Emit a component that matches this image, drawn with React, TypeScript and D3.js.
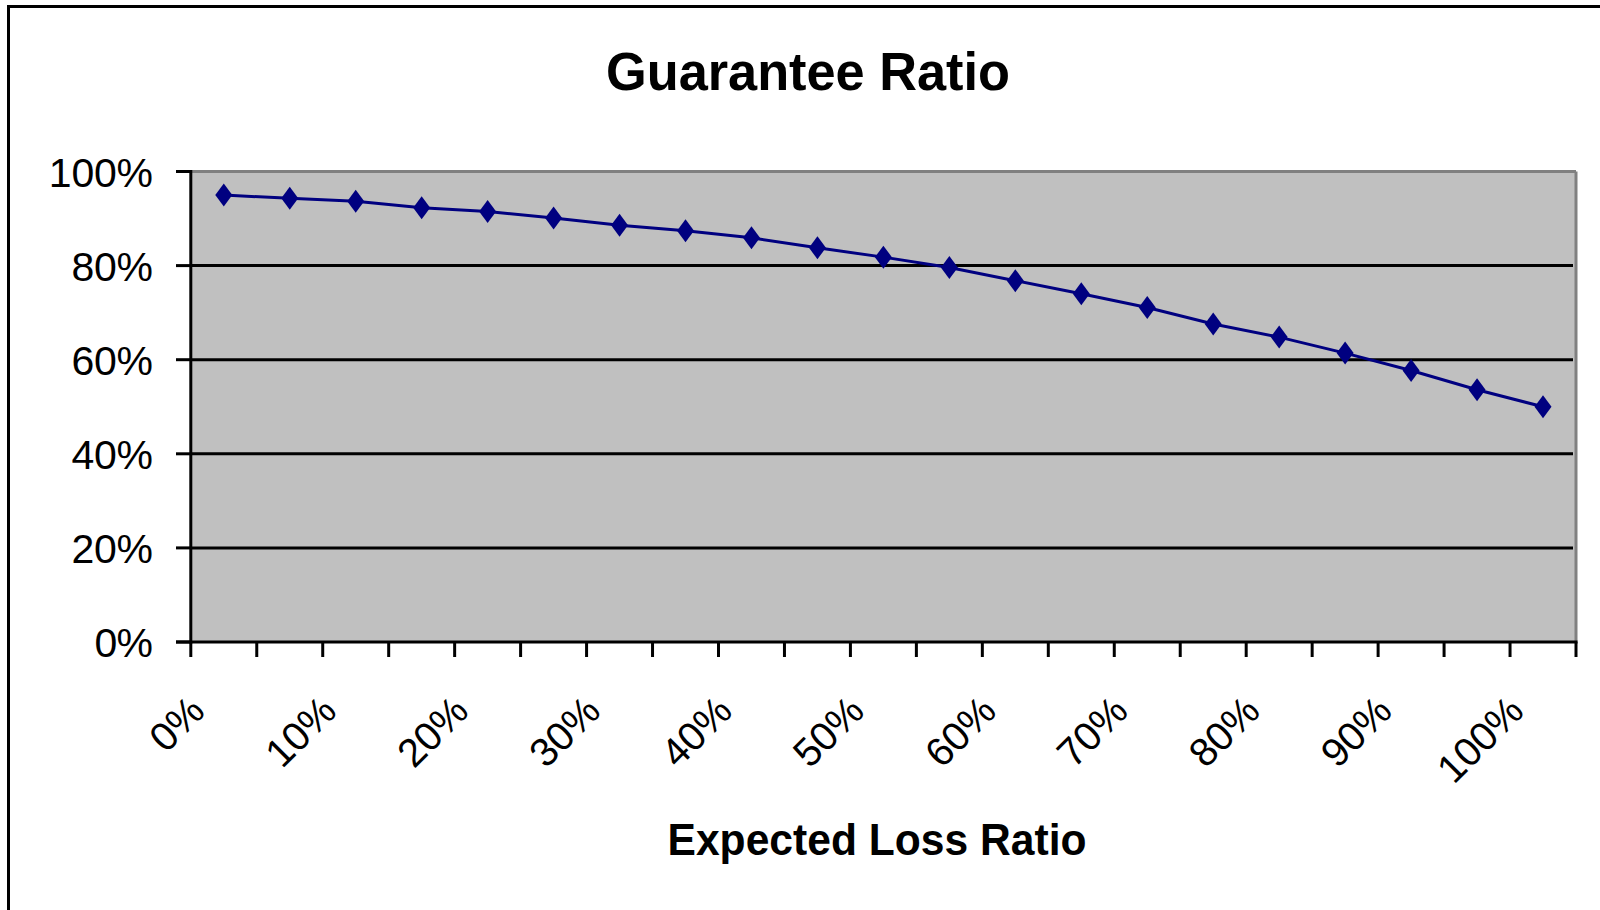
import React from "react";
import * as d3 from "d3";

const categories = [
  "0%", "5%", "10%", "15%", "20%", "25%", "30%", "35%", "40%", "45%", "50%",
  "55%", "60%", "65%", "70%", "75%", "80%", "85%", "90%", "95%", "100%",
];
const guaranteeRatio = [
  0.95, 0.943, 0.937, 0.923, 0.915, 0.901, 0.886, 0.874, 0.859, 0.838, 0.818,
  0.796, 0.768, 0.74, 0.711, 0.676, 0.648, 0.614, 0.577, 0.536, 0.5,
];
const xTickLabels = ["0%", "10%", "20%", "30%", "40%", "50%", "60%", "70%", "80%", "90%", "100%"];
const yTicks = [0, 0.2, 0.4, 0.6, 0.8, 1.0];
const title = "Guarantee Ratio";
const xAxisTitle = "Expected Loss Ratio";

const W = 1600;
const H = 910;
const plot = { left: 190.8, right: 1576, top: 171.5, bottom: 642 };
const NAVY = "#000080";
const FONT = "'Liberation Sans', Arial, sans-serif";

export default function App() {
  const x = d3.scaleBand<string>().domain(categories).range([plot.left, plot.right]).padding(0);
  const y = d3.scaleLinear().domain([0, 1]).range([plot.bottom, plot.top]);
  const bw = x.bandwidth();
  const cx = (c: string) => (x(c) as number) + bw / 2;
  const pts: [number, number][] = categories.map((c, i) => [cx(c), y(guaranteeRatio[i])]);
  const line = d3.line()(pts) as string;
  const yFmt = d3.format(".0%");
  const boundaries = categories.map((c) => x(c) as number).concat([plot.right]);
  const diamond = "M0,-11.5L8.5,0L0,11.5L-8.5,0Z";

  return (
    <svg
      width={W}
      height={H}
      style={{ position: "absolute", left: 0, top: 0, background: "#fff" }}
      fontFamily={FONT}
    >
      <rect x={0} y={0} width={W} height={H} fill="#fff" />
      {/* outer chart border */}
      <rect x={8.5} y={6.5} width={W + 20} height={H + 20} fill="none" stroke="#000" strokeWidth={3} />

      {/* title */}
      <text x={808} y={90} textAnchor="middle" fontSize={53} fontWeight="bold" textLength={404} lengthAdjust="spacingAndGlyphs">
        {title}
      </text>

      {/* plot area */}
      <rect x={plot.left} y={plot.top} width={plot.right - plot.left} height={plot.bottom - plot.top} fill="#C0C0C0" />
      <line x1={plot.left} x2={plot.right} y1={plot.top} y2={plot.top} stroke="#808080" strokeWidth={3} />
      <line x1={plot.right} x2={plot.right} y1={plot.top} y2={plot.bottom} stroke="#808080" strokeWidth={3} />

      {/* gridlines */}
      {yTicks.filter((t) => t > 0 && t < 1).map((t) => (
        <line key={"g" + t} x1={plot.left} x2={plot.right - 3} y1={y(t)} y2={y(t)} stroke="#000" strokeWidth={3} />
      ))}

      {/* y axis */}
      <line x1={plot.left} x2={plot.left} y1={plot.top - 1.5} y2={plot.bottom + 1.5} stroke="#000" strokeWidth={3} />
      {yTicks.map((t) => (
        <g key={"y" + t}>
          <line x1={176} x2={plot.left} y1={y(t)} y2={y(t)} stroke="#000" strokeWidth={3} />
          <text x={153} y={y(t) + 15} textAnchor="end" fontSize={41} textLength={yFmt(t).length * 22.8 + 13}>
            {yFmt(t)}
          </text>
        </g>
      ))}

      {/* x axis */}
      <line x1={176} x2={plot.right + 1.5} y1={plot.bottom} y2={plot.bottom} stroke="#000" strokeWidth={3} />
      {boundaries.map((b, i) => (
        <line key={"xt" + i} x1={b} x2={b} y1={plot.bottom} y2={657} stroke="#000" strokeWidth={3} />
      ))}
      {categories.map((c) =>
        xTickLabels.includes(c) ? (
          <text
            key={"xl" + c}
            transform={`translate(${cx(c) - 17},${713}) rotate(-45)`}
            textAnchor="end"
            fontSize={40}
          >
            {c}
          </text>
        ) : null
      )}

      {/* series */}
      <path d={line} fill="none" stroke={NAVY} strokeWidth={3} />
      {pts.map((p, i) => (
        <path key={"m" + i} d={diamond} transform={`translate(${p[0]},${p[1]})`} fill={NAVY} />
      ))}

      {/* x axis title */}
      <text x={877} y={855} textAnchor="middle" fontSize={44} fontWeight="bold" textLength={419} lengthAdjust="spacingAndGlyphs">
        {xAxisTitle}
      </text>
    </svg>
  );
}
